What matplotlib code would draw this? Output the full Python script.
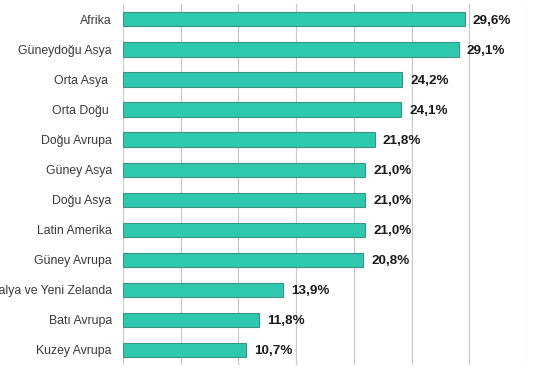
import matplotlib
matplotlib.use('Agg')
import matplotlib.pyplot as plt

# Bölgeler ve oranlar (yukarıdan aşağıya)
bolgeler = ['Afrika', 'Güneydoğu Asya', 'Orta Asya ', 'Orta Doğu ', 'Doğu Avrupa',
            'Güney Asya', 'Doğu Asya', 'Latin Amerika', 'Güney Avrupa',
            'Avustralya ve Yeni Zelanda', 'Batı Avrupa', 'Kuzey Avrupa']
oranlar = [29.6, 29.1, 24.2, 24.1, 21.8, 21.0, 21.0, 21.0, 20.8, 13.9, 11.8, 10.7]
x_ticks = [0, 5, 10, 15, 20, 25, 30, 35]

plt.rcParams['font.family'] = ['Liberation Sans', 'DejaVu Sans']

fig = plt.figure(figsize=(5.6, 3.8), dpi=100)
ax = fig.add_axes([0.2196, 0.04, 0.9411 - 0.2196, 0.95])

y = list(range(len(bolgeler)))
ax.barh(y, oranlar, height=0.47, color='#2ec8ae', edgecolor='#3b9483',
        linewidth=0.8, zorder=3)

for yi, v in zip(y, oranlar):
    ax.text(v + 0.7, yi, f"{v:.1f}%".replace('.', ','), va='center_baseline',
            ha='left', fontsize=9.7, fontweight='bold', color='#1a1a1a')

ax.set_yticks(y)
ax.set_yticklabels(bolgeler, fontsize=8.8, color='#3a3a3a')
ax.set_ylim(len(bolgeler) - 0.5, -0.52)
ax.set_xlim(0, 35)
ax.set_xticks(x_ticks)
ax.set_xticklabels([])
ax.tick_params(axis='both', length=0, pad=8)
ax.grid(axis='x', color='#c8c8c8', linewidth=0.8, zorder=0)
for s in ax.spines.values():
    s.set_visible(False)

fig.savefig('out.png', dpi=100)
